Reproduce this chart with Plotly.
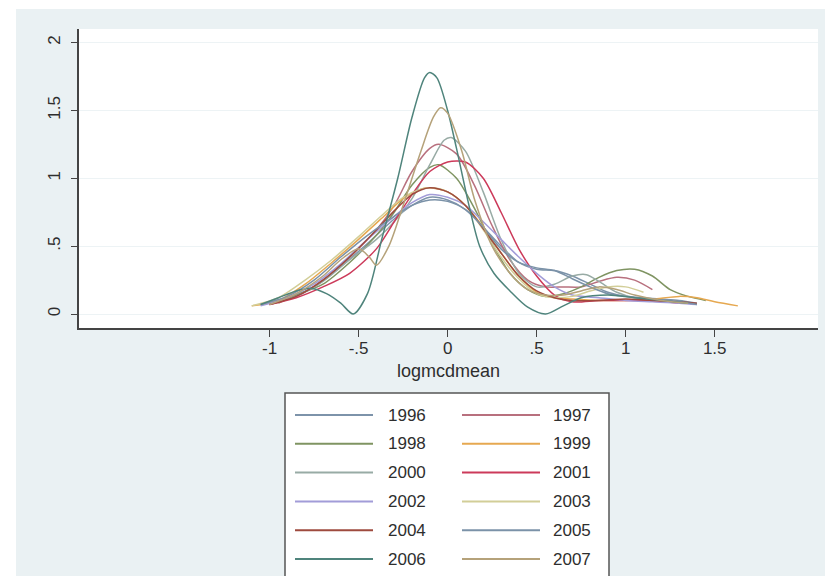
import plotly.graph_objects as go

years = ["1996", "1997", "1998", "1999", "2000", "2001",
         "2002", "2003", "2004", "2005", "2006", "2007"]
colors = ["#7D93AA", "#B8707E", "#7F9462", "#E6A850", "#98ABA5", "#CC3A5A",
          "#A29CD8", "#D2CE98", "#9E4A3E", "#7B92A8", "#4F847C", "#B5A27A"]

x_1996 = [-1.05, -0.9, -0.75, -0.6, -0.45, -0.3, -0.2, -0.1, 0.0, 0.1, 0.2, 0.3, 0.4, 0.5, 0.6, 0.7, 0.8, 0.9, 1.0, 1.1, 1.2, 1.3, 1.4]
y_1996 = [0.07, 0.12, 0.2, 0.35, 0.52, 0.7, 0.8, 0.86, 0.84, 0.77, 0.64, 0.5, 0.38, 0.33, 0.32, 0.28, 0.22, 0.16, 0.13, 0.12, 0.11, 0.1, 0.08]

x_1997 = [-1.0, -0.85, -0.7, -0.55, -0.4, -0.3, -0.2, -0.1, -0.05, 0.05, 0.15, 0.25, 0.35, 0.45, 0.55, 0.65, 0.75, 0.85, 0.95, 1.05, 1.15]
y_1997 = [0.08, 0.13, 0.25, 0.42, 0.62, 0.8, 1.05, 1.22, 1.25, 1.18, 0.95, 0.65, 0.4, 0.25, 0.2, 0.2, 0.2, 0.24, 0.27, 0.25, 0.18]

x_1998 = [-0.95, -0.85, -0.7, -0.55, -0.4, -0.3, -0.2, -0.1, -0.05, 0.05, 0.15, 0.25, 0.35, 0.45, 0.55, 0.65, 0.75, 0.85, 0.95, 1.05, 1.15, 1.25, 1.35, 1.45]
y_1998 = [0.08, 0.14, 0.22, 0.38, 0.58, 0.75, 0.95, 1.08, 1.1, 1.0, 0.78, 0.52, 0.3, 0.18, 0.13, 0.15, 0.2, 0.27, 0.32, 0.33, 0.28, 0.18, 0.13, 0.1]

x_1999 = [-1.1, -0.95, -0.8, -0.65, -0.5, -0.35, -0.25, -0.15, -0.1, 0.0, 0.1, 0.2, 0.3, 0.4, 0.5, 0.6, 0.7, 0.85, 1.0, 1.15, 1.3, 1.4, 1.5, 1.63]
y_1999 = [0.06, 0.1, 0.22, 0.38, 0.55, 0.73, 0.85, 0.92, 0.93, 0.9, 0.8, 0.64, 0.45, 0.28, 0.16, 0.12, 0.11, 0.1, 0.1, 0.11, 0.13, 0.12, 0.09, 0.06]

x_2000 = [-1.0, -0.85, -0.7, -0.55, -0.4, -0.3, -0.2, -0.1, -0.02, 0.02, 0.1, 0.2, 0.3, 0.4, 0.5, 0.6, 0.7, 0.78, 0.85, 0.95, 1.05, 1.2, 1.35]
y_2000 = [0.07, 0.13, 0.24, 0.4, 0.55, 0.68, 0.85, 1.1, 1.28, 1.3, 1.2, 0.9, 0.55, 0.3, 0.2, 0.22, 0.28, 0.29, 0.24, 0.16, 0.12, 0.1, 0.08]

x_2001 = [-1.0, -0.85, -0.7, -0.55, -0.4, -0.3, -0.2, -0.1, 0.0, 0.1, 0.2, 0.3, 0.4, 0.5, 0.6, 0.7, 0.85, 1.0, 1.15, 1.3]
y_2001 = [0.07, 0.12, 0.2, 0.3, 0.48, 0.68, 0.88, 1.05, 1.12, 1.12, 1.0, 0.75, 0.48, 0.28, 0.14, 0.09, 0.1, 0.1, 0.1, 0.08]

x_2002 = [-1.05, -0.9, -0.75, -0.6, -0.45, -0.3, -0.2, -0.1, 0.0, 0.1, 0.2, 0.3, 0.4, 0.5, 0.6, 0.7, 0.85, 1.0, 1.15, 1.3, 1.4]
y_2002 = [0.06, 0.12, 0.22, 0.37, 0.55, 0.72, 0.82, 0.88, 0.86, 0.8, 0.68, 0.55, 0.42, 0.3, 0.2, 0.14, 0.12, 0.1, 0.09, 0.08, 0.07]

x_2003 = [-1.1, -0.95, -0.8, -0.65, -0.5, -0.35, -0.25, -0.15, -0.08, 0.0, 0.1, 0.2, 0.3, 0.4, 0.5, 0.6, 0.7, 0.8, 0.9, 1.0, 1.1]
y_2003 = [0.06, 0.12, 0.25, 0.4, 0.57, 0.75, 0.86, 0.92, 0.93, 0.9, 0.8, 0.62, 0.42, 0.26, 0.15, 0.12, 0.13, 0.17, 0.2, 0.2, 0.16]

x_2004 = [-1.0, -0.85, -0.7, -0.55, -0.4, -0.3, -0.2, -0.1, 0.0, 0.1, 0.2, 0.3, 0.4, 0.5, 0.6, 0.7, 0.85, 1.0, 1.15, 1.3, 1.4]
y_2004 = [0.07, 0.13, 0.25, 0.42, 0.62, 0.76, 0.88, 0.93, 0.9, 0.8, 0.63, 0.45, 0.28, 0.17, 0.12, 0.1, 0.1, 0.11, 0.1, 0.09, 0.08]

x_2005 = [-1.05, -0.9, -0.75, -0.6, -0.45, -0.3, -0.2, -0.1, 0.0, 0.1, 0.2, 0.3, 0.4, 0.5, 0.6, 0.7, 0.8, 0.9, 1.0, 1.15, 1.3, 1.4]
y_2005 = [0.07, 0.13, 0.25, 0.42, 0.58, 0.72, 0.8, 0.84, 0.83, 0.77, 0.64, 0.48, 0.38, 0.34, 0.32, 0.26, 0.2, 0.15, 0.13, 0.11, 0.09, 0.07]

x_2006 = [-1.05, -0.95, -0.85, -0.77, -0.68, -0.6, -0.53, -0.45, -0.37, -0.28, -0.2, -0.13, -0.1, -0.06, 0.0, 0.05, 0.12, 0.18, 0.26, 0.35, 0.45, 0.55, 0.65, 0.75, 0.9, 1.05, 1.2, 1.35]
y_2006 = [0.07, 0.12, 0.17, 0.19, 0.15, 0.08, 0.0, 0.15, 0.55, 1.0, 1.45, 1.74, 1.78, 1.74, 1.5, 1.22, 0.8, 0.5, 0.3, 0.17, 0.05, 0.0, 0.06, 0.12, 0.14, 0.12, 0.1, 0.08]

x_2007 = [-1.0, -0.85, -0.7, -0.6, -0.5, -0.44, -0.4, -0.33, -0.25, -0.15, -0.08, -0.04, 0.0, 0.08, 0.15, 0.25, 0.35, 0.45, 0.55, 0.65, 0.75, 0.85, 0.95, 1.05, 1.2, 1.35]
y_2007 = [0.07, 0.15, 0.28, 0.4, 0.48, 0.42, 0.36, 0.5, 0.8, 1.2, 1.45, 1.52, 1.48, 1.2, 0.85, 0.5, 0.3, 0.18, 0.14, 0.14, 0.17, 0.2, 0.18, 0.14, 0.1, 0.08]

xs = [x_1996, x_1997, x_1998, x_1999, x_2000, x_2001, x_2002, x_2003, x_2004, x_2005, x_2006, x_2007]
ys = [y_1996, y_1997, y_1998, y_1999, y_2000, y_2001, y_2002, y_2003, y_2004, y_2005, y_2006, y_2007]

x_tickvals = [-1, -0.5, 0, 0.5, 1, 1.5]
x_ticktext = ["-1", "-.5", "0", ".5", "1", "1.5"]
y_tickvals = [0, 0.5, 1, 1.5, 2]
y_ticktext = ["0", ".5", "1", "1.5", "2"]
x_title = "logmcdmean"

W, H = 826, 576
ML, MR, MT, MB = 79, 8, 29, 248
PW, PH = W - ML - MR, H - MT - MB

def px(x):
    return (x - ML) / PW

def py(y):
    return (H - MB - y) / PH

FONT = "Liberation Sans, Arial, sans-serif"
TXT = "#2e2e2e"

fig = go.Figure()
for yr, c, xv, yv in zip(years, colors, xs, ys):
    fig.add_trace(go.Scatter(x=xv, y=yv, mode="lines", name=yr,
                             line=dict(color=c, width=1.5, shape="spline", smoothing=0.8),
                             showlegend=False))

shapes = [
    dict(type="rect", xref="paper", yref="paper", x0=px(0), x1=px(16), y0=py(H), y1=py(0),
         fillcolor="white", line_width=0, layer="below"),
    dict(type="rect", xref="paper", yref="paper", x0=px(0), x1=px(W), y0=py(9), y1=py(0),
         fillcolor="white", line_width=0, layer="below"),
    dict(type="rect", xref="paper", yref="paper", x0=px(825), x1=px(W), y0=py(H), y1=py(0),
         fillcolor="white", line_width=0, layer="below"),
    dict(type="rect", xref="paper", yref="paper", x0=px(285), x1=px(609), y0=py(H + 10), y1=py(393),
         fillcolor="white", line=dict(color="#555555", width=1.5)),
]
annotations = []
row0, rowstep = 415, 28.8
for i, (yr, c) in enumerate(zip(years, colors)):
    r, col = divmod(i, 2)
    yy = row0 + r * rowstep
    lx0, lx1, tx = (295, 373, 386) if col == 0 else (462, 540, 551)
    shapes.append(dict(type="line", xref="paper", yref="paper", x0=px(lx0), x1=px(lx1),
                       y0=py(yy), y1=py(yy), line=dict(color=c, width=2)))
    annotations.append(dict(xref="paper", yref="paper", x=px(tx), y=py(yy), text=yr,
                            showarrow=False, xanchor="left", yanchor="middle",
                            font=dict(family=FONT, size=17, color=TXT)))

fig.update_layout(
    width=W, height=H,
    margin=dict(l=ML, r=MR, t=MT, b=MB, pad=0),
    paper_bgcolor="#EAF1F3",
    plot_bgcolor="white",
    font=dict(family=FONT, size=17, color=TXT),
    shapes=shapes,
    annotations=annotations,
    xaxis=dict(range=[-2.07, 2.08], tickvals=x_tickvals, ticktext=x_ticktext,
               showgrid=False, zeroline=False, showline=True, linecolor="#444444", linewidth=1.5,
               ticks="outside", ticklen=7, tickcolor="#444444", tickwidth=1.2,
               ticklabelstandoff=-3,
               title=dict(text=x_title, standoff=7, font=dict(size=18)),
               tickfont=dict(size=17), automargin=False),
    yaxis=dict(range=[-0.103, 2.1], tickvals=y_tickvals, ticktext=y_ticktext,
               showgrid=True, gridcolor="#EDF3F5", gridwidth=1, zeroline=False,
               showline=True, linecolor="#444444", linewidth=1.5,
               ticks="outside", ticklen=6, tickcolor="#444444", tickwidth=1.2,
               tickangle=-90, tickfont=dict(size=17), ticklabelstandoff=4, automargin=False),
)

fig.write_html("out.html", config={"displayModeBar": False},
               post_script="document.body.style.margin='0';")
